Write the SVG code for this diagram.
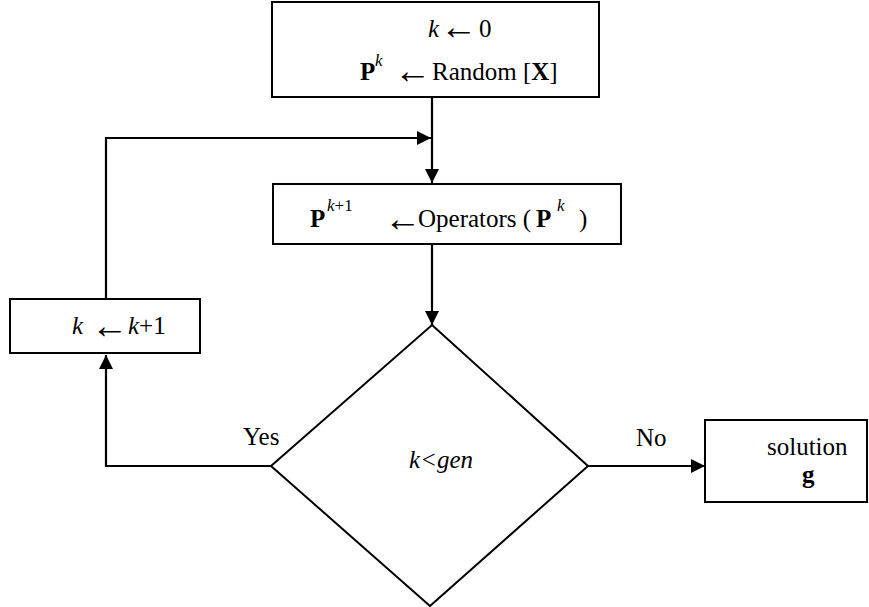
<svg xmlns="http://www.w3.org/2000/svg" width="869" height="607" viewBox="0 0 869 607">
  <style>
    .box { fill: #fff; stroke: #000; stroke-width: 2; }
    .ln { fill: none; stroke: #000; stroke-width: 2.2; }
    text { font-family: "Liberation Serif", "Times New Roman", serif; font-size: 25px; fill: #000; }
    .it { font-style: italic; }
    .bd { font-weight: bold; }
    .sup { font-size: 17px; }
    .arr { font-family: "Liberation Serif", serif; font-size: 37px; }
  </style>
  <defs>
    <marker id="head" viewBox="0 0 14 14" refX="14" refY="7" markerWidth="14" markerHeight="14" markerUnits="userSpaceOnUse" orient="auto">
      <path d="M0,0 L14,7 L0,14 Z" fill="#000"/>
    </marker>
  </defs>

  <rect width="869" height="607" fill="#fff"/>

  <!-- connectors -->
  <g id="connectors">
    <line class="ln" x1="432" y1="97" x2="432" y2="183" marker-end="url(#head)"/>
    <polyline class="ln" points="106,299 106,138 431,138" marker-end="url(#head)"/>
    <line class="ln" x1="432" y1="245" x2="432" y2="325" marker-end="url(#head)"/>
    <polyline class="ln" points="271,466 106,466 106,355" marker-end="url(#head)"/>
    <line class="ln" x1="588" y1="466" x2="705" y2="466" marker-end="url(#head)"/>
    <text x="243" y="445">Yes</text>
    <text x="636" y="446">No</text>
  </g>

  <!-- initialisation -->
  <g id="init">
    <rect class="box" x="272" y="2" width="327" height="95"/>
    <text class="it" x="428" y="37">k</text>
    <text class="arr" x="440" y="39">←</text>
    <text x="479" y="37">0</text>
    <text class="bd" x="360" y="80">P</text>
    <text class="it sup" x="375" y="66">k</text>
    <text class="arr" x="394" y="83">←</text>
    <text x="432" y="80">Random [<tspan class="bd">X</tspan>]</text>
  </g>

  <!-- operators -->
  <g id="operators">
    <rect class="box" x="273" y="184" width="348" height="60"/>
    <text class="bd" x="310" y="227">P</text>
    <text class="sup" x="327" y="211"><tspan class="it">k</tspan>+1</text>
    <text class="arr" x="384" y="231">←</text>
    <text x="418" y="227">Operators (</text>
    <text class="bd" x="536" y="227">P</text>
    <text class="it sup" x="557" y="211">k</text>
    <text x="579" y="227">)</text>
  </g>

  <!-- counter update -->
  <g id="increment">
    <rect class="box" x="10" y="299" width="190" height="54"/>
    <text class="it" x="72" y="334">k</text>
    <text class="arr" x="91" y="338">←</text>
    <text x="128" y="334"><tspan class="it">k</tspan>+1</text>
  </g>

  <!-- decision -->
  <g id="decision">
    <polygon class="box" points="432,325 588,466 430,606 271,466"/>
    <text class="it" x="409" y="468">k&lt;gen</text>
  </g>

  <!-- result -->
  <g id="solution">
    <rect class="box" x="705" y="420" width="162" height="82"/>
    <text x="767" y="455">solution</text>
    <text class="bd" x="802" y="483">g</text>
  </g>
</svg>
